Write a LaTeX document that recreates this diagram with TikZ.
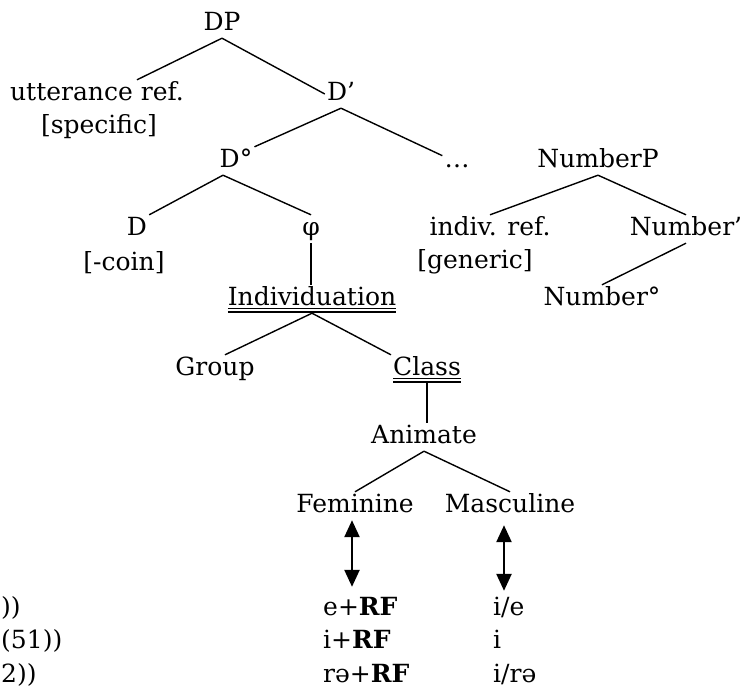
\documentclass[tikz,border=0pt]{standalone}
\usepackage{fontspec}
\setmainfont{DejaVu Serif}
\usetikzlibrary{arrows.meta}

% double underline
\newcommand{\dul}[1]{\sbox0{#1}\rlap{\rule[-4pt]{\wd0}{1.3pt}}\rlap{\rule[-7.5pt]{\wd0}{1.3pt}}\usebox0}

\begin{document}
\begin{tikzpicture}[x=1pt,y=-1pt,
label/.style={
% The text box:
anchor=base,
inner sep=2pt,
text height=18pt,
text depth=6pt,
font=\fontsize{25}{30}\selectfont
},
row/.style={label,anchor=base west,inner sep=0pt},
branch/.style={line width=1.4pt},
link/.style={
line width=2.4pt,
{Triangle[length=17pt,width=15pt]}-{Triangle[length=17pt,width=15pt]}
}
]
\useasboundingbox (0,0) rectangle (741,688);
% Tree:
\node[label] (dp) at (222,30) {DP};
\node[label] (utt) at (97,100) {utterance ref.};
\node[label] (spec) at (99,133) {[specific]};
\node[label] (dbar) at (341,100) {D’};
\node[label] (dzero) at (236,167) {D°};
\node[label] (dots) at (457,167) {…};
\node[label] (nump) at (598,167) {NumberP};
\node[label] (dhead) at (137,235) {D};
\node[label] (coin) at (124,270) {[-coin]};
\node[label] (phi) at (311,235) {φ};
\node[label] (indref) at (490,235) {indiv. ref.};
\node[label] (gener) at (475,268) {[generic]};
\node[label] (numbar) at (686,235) {Number’};
\node[label] (numzero) at (602,305) {Number°};
\node[label] (indiv) at (312,305) {\dul{Individuation}};
\node[label] (group) at (215,375) {Group};
\node[label] (cls) at (427,375) {\dul{Class}};
\node[label] (anim) at (424,443) {Animate};
\node[label] (fem) at (355,512) {Feminine};
\node[label] (masc) at (510,512) {Masculine};
% Forms:
\node[row] (cfa) at (1,615) {))};
\node[row] (cfb) at (1,648) {(51))};
\node[row] (cfc) at (1,682) {2))};
\node[row] (erf) at (323,615) {e+\textbf{RF}};
\node[row] (irf) at (323,648) {i+\textbf{RF}};
\node[row] (rerf) at (323,682) {rə+\textbf{RF}};
\node[row] (ie) at (493,615) {i/e};
\node[row] (ii) at (493,648) {i};
\node[row] (ire) at (493,682) {i/rə};
\draw[branch] (dp.south) -- ([xshift=40pt]utt.north) (dp.south) -- (dbar.west);
\draw[branch] (dbar.south) -- (dzero.north east) (dbar.south) -- (dots.160);
\draw[branch] (nump.south) -- (indref.north) (nump.south) -- (numbar.north);
\draw[branch] (numbar.south) -- (numzero.north);
\draw[branch] ([xshift=-13pt]dzero.south) -- (dhead.north east) ([xshift=-13pt]dzero.south) -- (phi.north);
\draw[branch] (phi.south) -- (phi.south |- indiv.north);
\draw[branch] (indiv.south) -- ([xshift=10pt]group.north) (indiv.south) -- (cls.north west);
\draw[branch] (cls.south) -- (cls.south |- anim.north);
\draw[branch] (anim.south) -- (fem.north) (anim.south) -- (masc.north);
\draw[link,shorten >=10pt] ([xshift=-3pt]fem.south) -- ([xshift=-3pt]fem.south |- erf.north);
\draw[link,shorten <=5pt,shorten >=6pt] ([xshift=-6pt]masc.south) -- ([xshift=-6pt]masc.south |- ie.north);
\end{tikzpicture}
\end{document}
